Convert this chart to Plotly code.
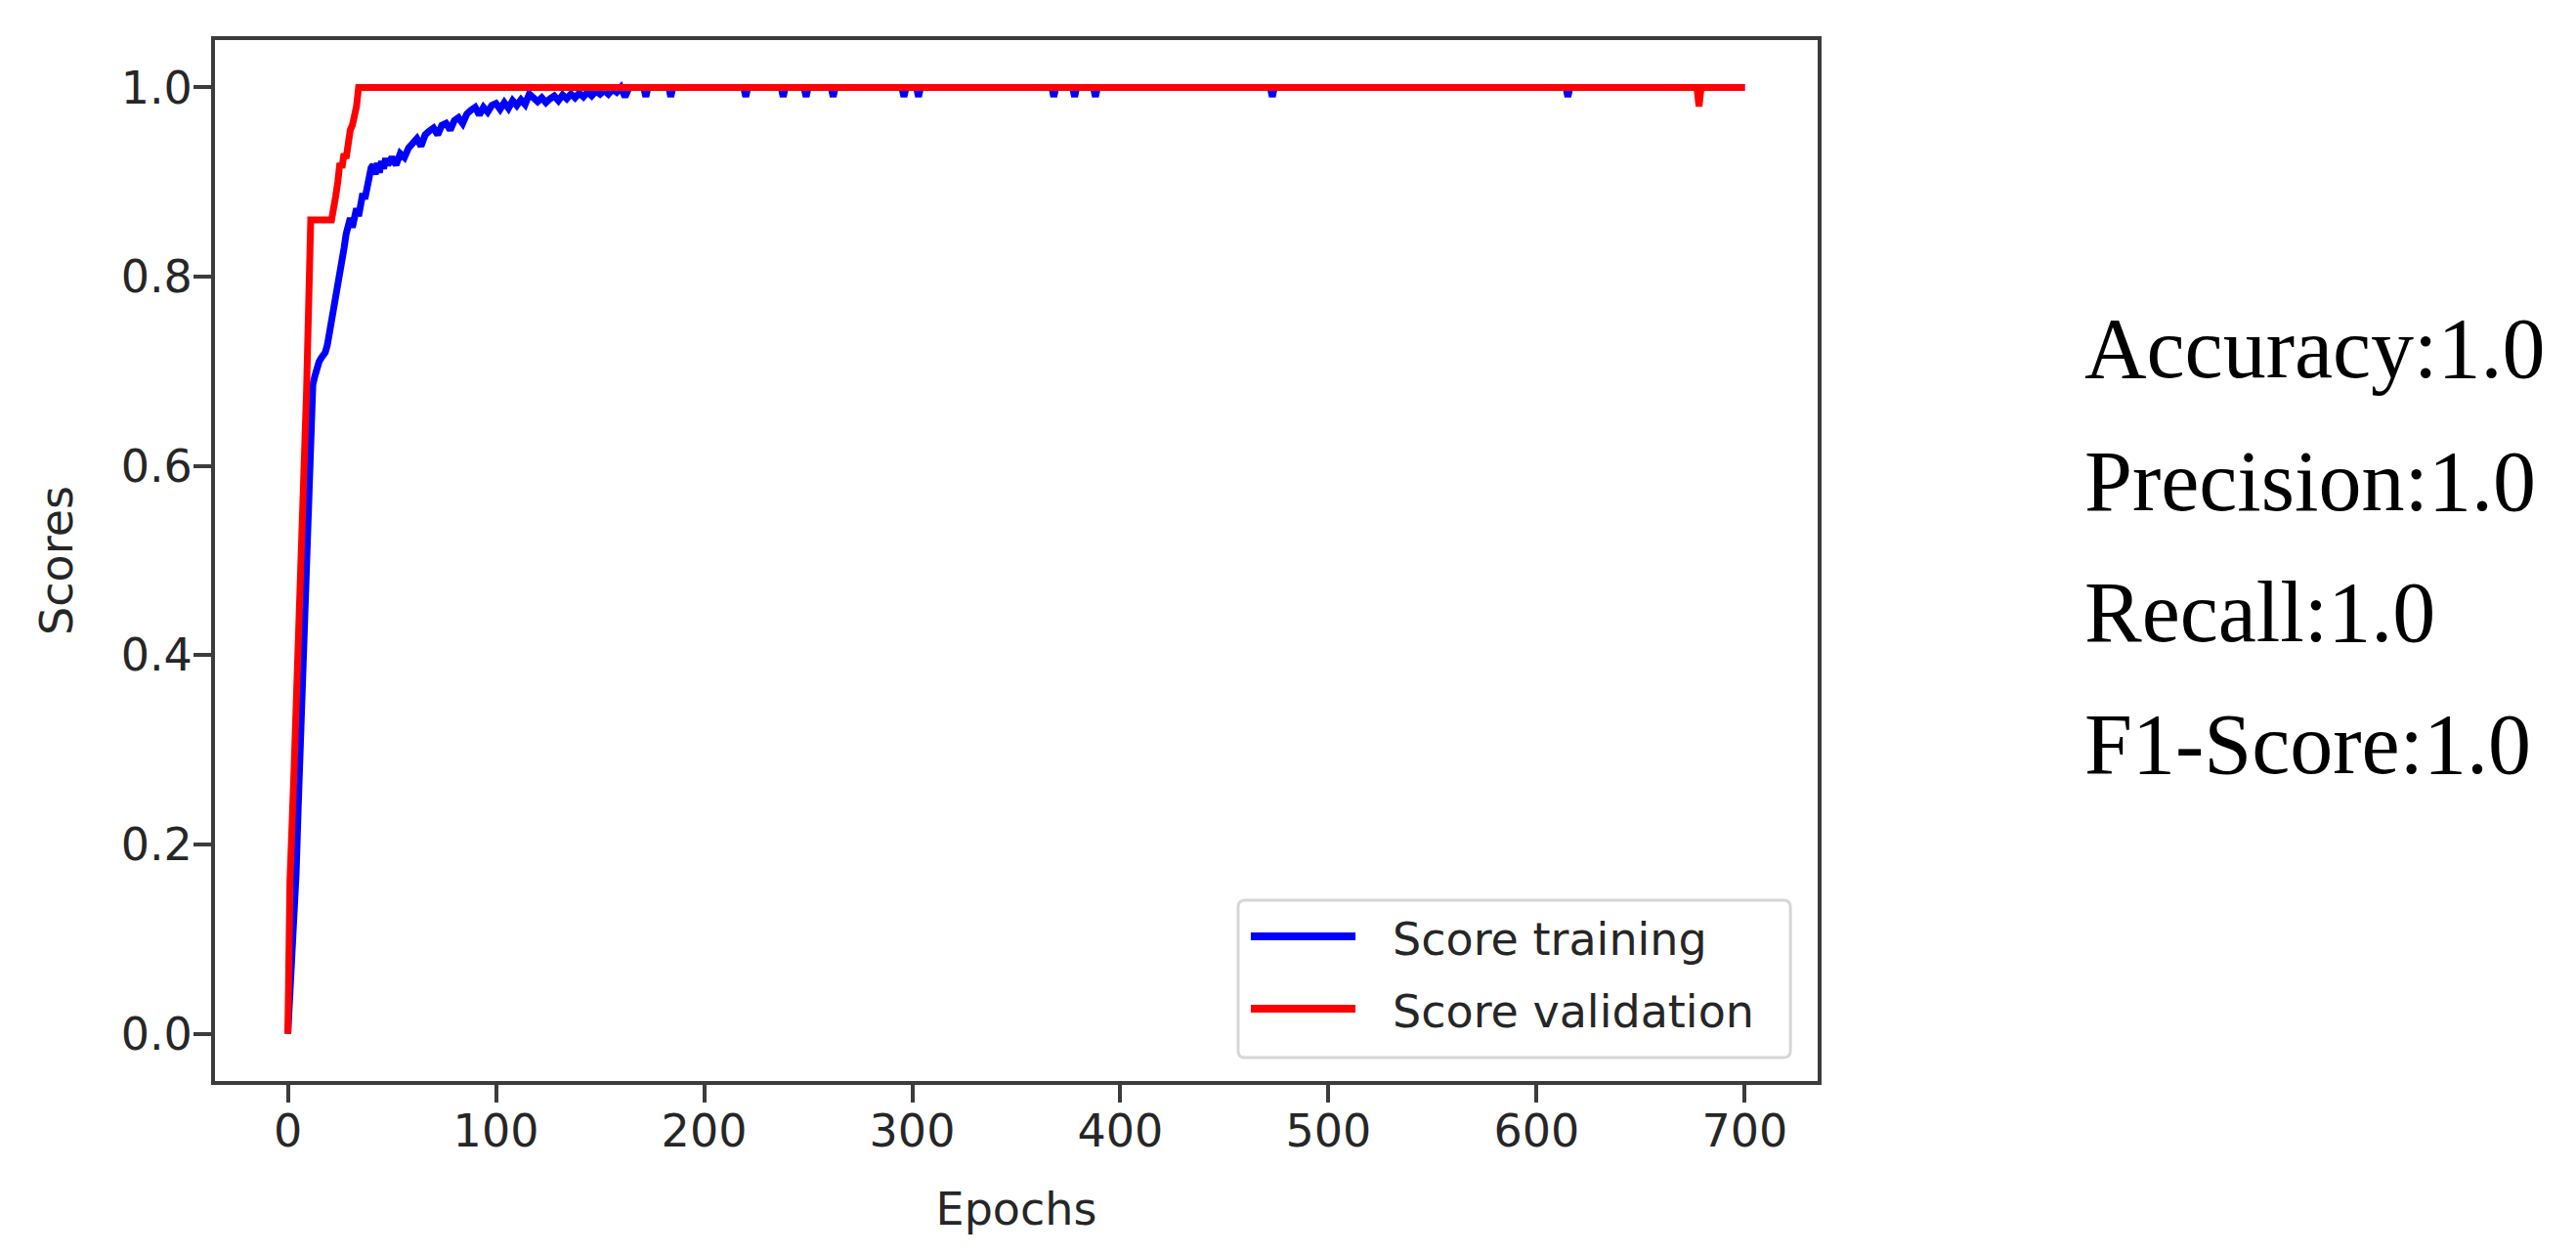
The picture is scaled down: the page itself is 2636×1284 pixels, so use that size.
"""Training / validation score curves with the summary metrics on the right."""

import plotly.graph_objects as go

# Score training (blue) – epoch, score
train_epochs = [
    0, 1, 2, 3, 4, 5, 6, 7, 8, 9, 10, 11, 12, 13, 14, 15, 16, 17, 18, 19,
    20, 21, 22, 23, 24, 25, 26, 27, 28, 29, 30, 31, 32, 33, 34, 35, 36, 37, 38, 39,
    40, 41, 42, 43, 44, 45, 46, 47, 48, 50, 52, 54, 56, 58, 60, 62, 64, 66, 68, 70,
    72, 74, 76, 78, 80, 82, 84, 86, 88, 90, 92, 94, 96, 98, 100, 102, 104, 106, 108, 110,
    112, 114, 116, 118, 120, 122, 124, 126, 128, 130, 132, 134, 136, 138, 140, 142, 144, 146, 148, 150,
    152, 154, 156, 158, 160, 162, 164, 171, 172, 173, 183, 184, 185, 187,
    219, 220, 221, 237, 238, 239, 248, 249, 250, 261, 262, 263, 295, 296, 297,
    302, 303, 304, 367, 368, 369, 377, 378, 379, 387, 388, 389, 472, 473, 474,
    614, 615, 616, 700,
]
train_scores = [
    0.0, 0.04, 0.09, 0.13, 0.17, 0.24, 0.31, 0.38, 0.45, 0.52, 0.58, 0.64, 0.686, 0.695, 0.705, 0.71, 0.714, 0.718, 0.72, 0.728,
    0.74, 0.752, 0.765, 0.775, 0.785, 0.80, 0.81, 0.83, 0.845, 0.858, 0.862, 0.852, 0.868, 0.872, 0.864, 0.878, 0.888, 0.882, 0.896, 0.905,
    0.915, 0.918, 0.908, 0.92, 0.91, 0.922, 0.914, 0.925, 0.918, 0.926, 0.918, 0.93, 0.926, 0.936, 0.94, 0.946, 0.938, 0.95, 0.954, 0.957,
    0.95, 0.96, 0.962, 0.955, 0.965, 0.968, 0.962, 0.972, 0.976, 0.979, 0.971, 0.979, 0.974, 0.981, 0.983, 0.977, 0.984, 0.978, 0.986, 0.981,
    0.987, 0.982, 0.993, 0.99, 0.985, 0.989, 0.984, 0.988, 0.991, 0.986, 0.992, 0.988, 0.993, 0.989, 0.994, 0.99, 0.995, 0.991, 0.996, 0.993,
    0.997, 0.993, 0.998, 0.995, 1.0, 0.99, 1.0, 1.0, 0.99, 1.0, 1.0, 0.99, 1.0, 1.0,
    1.0, 0.99, 1.0, 1.0, 0.99, 1.0, 1.0, 0.99, 1.0, 1.0, 0.99, 1.0, 1.0, 0.99, 1.0,
    1.0, 0.99, 1.0, 1.0, 0.99, 1.0, 1.0, 0.99, 1.0, 1.0, 0.99, 1.0, 1.0, 0.99, 1.0,
    1.0, 0.99, 1.0, 1.0,
]

# Score validation (red) – epoch, score
val_epochs = [0, 1, 3, 5, 7, 8, 9, 10, 11, 21, 22, 23, 24, 25, 26, 27, 28, 29, 30, 31, 32, 33, 34,
              677, 678, 679, 700]
val_scores = [0.0, 0.16, 0.28, 0.40, 0.53, 0.60, 0.68, 0.77, 0.86, 0.86, 0.87, 0.885, 0.90, 0.92, 0.915,
              0.93, 0.925, 0.945, 0.955, 0.96, 0.97, 0.98, 1.0,
              1.0, 0.98, 1.0, 1.0]

x_ticks = [0, 100, 200, 300, 400, 500, 600, 700]
y_ticks = [0.0, 0.2, 0.4, 0.6, 0.8, 1.0]

metric_names = ["Accuracy", "Precision", "Recall", "F1-Score"]
metric_values = [1.0, 1.0, 1.0, 1.0]

series_names = ["Score training", "Score validation"]
series_colors = ["#0000FF", "#FF0000"]

TEXT = "#262626"
SPINE = "#3c3c3c"
TICK_FONT = {"family": "DejaVu Sans", "size": 46, "color": TEXT}

fig = go.Figure()
fig.add_trace(go.Scatter(x=train_epochs, y=train_scores, mode="lines", name=series_names[0],
                         line={"color": series_colors[0], "width": 7}, showlegend=False))
fig.add_trace(go.Scatter(x=val_epochs, y=val_scores, mode="lines", name=series_names[1],
                         line={"color": series_colors[1], "width": 7}, showlegend=False))

axis_common = dict(
    showgrid=False, zeroline=False, showline=True, mirror=True,
    linecolor=SPINE, linewidth=4, ticks="outside", ticklen=18, tickwidth=4,
    tickcolor=SPINE, tickfont=TICK_FONT,
)
fig.update_xaxes(range=[-35, 735], tickvals=x_ticks, ticklabelstandoff=-10,
                 title={"text": "Epochs", "font": TICK_FONT, "standoff": 39}, **axis_common)
fig.update_yaxes(range=[-0.05, 1.05], tickvals=y_ticks, tickformat=".1f", ticklabelstandoff=-8,
                 title={"text": "Scores", "font": TICK_FONT, "standoff": 36}, **axis_common)

# legend box drawn in matplotlib style (lower right, rounded light-grey frame)
lx0, lx1, ly0, ly1 = 0.6384, 0.983, 0.0225, 0.1737
rx, ry = 0.0043, 0.0066
legend_path = (
    f"M{lx0 + rx},{ly0} L{lx1 - rx},{ly0} Q{lx1},{ly0} {lx1},{ly0 + ry} "
    f"L{lx1},{ly1 - ry} Q{lx1},{ly1} {lx1 - rx},{ly1} "
    f"L{lx0 + rx},{ly1} Q{lx0},{ly1} {lx0},{ly1 - ry} "
    f"L{lx0},{ly0 + ry} Q{lx0},{ly0} {lx0 + rx},{ly0} Z"
)
fig.add_shape(type="path", path=legend_path, xref="paper", yref="paper",
              line={"color": "#d6d6d6", "width": 3}, fillcolor="rgba(255,255,255,0.85)")
for name, color, yy in zip(series_names, series_colors, [0.139, 0.0695]):
    fig.add_shape(type="line", xref="paper", yref="paper", x0=0.6463, x1=0.7116, y0=yy, y1=yy,
                  line={"color": color, "width": 8})
    fig.add_annotation(text=name, xref="paper", yref="paper", x=0.7335, y=yy - 0.003,
                       xanchor="left", yanchor="middle", showarrow=False, font=TICK_FONT)

# metrics text on the right
for name, value, yy in zip(metric_names, metric_values, [0.7033, 0.5765, 0.4507, 0.3239]):
    fig.add_annotation(text=f"{name}:{value:.1f}", xref="paper", yref="paper", x=1.1652, y=yy,
                       xanchor="left", yanchor="middle", showarrow=False,
                       font={"family": "Liberation Serif", "size": 88, "color": "#000000"})

fig.update_layout(
    width=2636, height=1284, autosize=False,
    margin={"l": 220, "r": 776, "t": 41, "b": 178},
    paper_bgcolor="white", plot_bgcolor="white",
    showlegend=False,
)

fig.write_html(
    "out.html",
    config={"displayModeBar": False},
    post_script="document.body.style.margin='0';document.body.style.overflow='hidden';",
)
